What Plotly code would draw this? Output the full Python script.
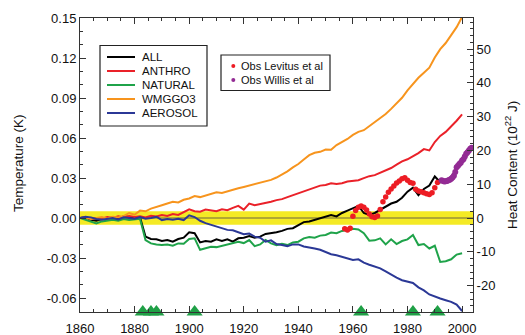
import plotly.graph_objects as go

# ---------------- data (heat content, 10^22 J) ----------------
years = [1860, 1862, 1864, 1866, 1868, 1870, 1872, 1874, 1876, 1878,
         1880, 1882, 1884, 1886, 1888, 1890, 1892, 1894, 1896, 1898,
         1900, 1902, 1904, 1906, 1908, 1910, 1912, 1914, 1916, 1918,
         1920, 1922, 1924, 1926, 1928, 1930, 1932, 1934, 1936, 1938,
         1940, 1942, 1944, 1946, 1948, 1950, 1952, 1954, 1956, 1958,
         1960, 1962, 1964, 1966, 1968, 1970, 1972, 1974, 1976, 1978,
         1980, 1982, 1984, 1986, 1988, 1990, 1992, 1994, 1996, 1998, 2000]

all_forcing = [0.0, 0.3, -0.5, -0.8, -0.3, -0.2, 0.2, -0.3, 0.5, 0.3,
               -0.2, 0.2, -5.5, -6.2, -6.3, -6.8, -6.5, -7.0, -6.2, -5.8,
               -4.2, -4.5, -7.2, -6.8, -7.0, -6.3, -6.8, -6.3, -7.0, -6.0,
               -5.8, -5.3, -5.8, -5.5, -4.7, -4.5, -4.2, -3.8, -3.2, -3.0,
               -2.2, -1.2, -1.0, -0.5, 0.0, 0.3, 0.9, 0.5, 1.5, 2.2,
               3.0, 3.6, 1.5, 0.9, 1.5, 2.4, 3.4, 4.3, 4.8, 6.0,
               7.8, 9.0, 6.8, 8.6, 9.6, 12.3, 10.6, 11.2, 12.0, 14.8, 17.2]

anthro = [0.0, 0.2, -0.3, 0.0, -0.2, 0.3, 0.0, 0.5, 0.2, 0.6,
          0.3, 0.5, 0.2, 0.7, 0.5, 0.9, 0.6, 1.2, 0.9, 1.8,
          2.6, 2.0, 1.9, 2.5, 2.2, 2.0, 2.6, 2.3, 3.0, 3.6,
          2.5, 4.3, 3.8, 4.1, 4.6, 4.8, 5.3, 5.6, 6.2, 6.8,
          7.2, 7.8, 8.6, 9.0, 9.6, 9.8, 10.3, 10.1, 10.3, 10.8,
          11.0, 11.2, 11.8, 12.4, 12.7, 13.4, 14.0, 14.8, 15.8, 16.8,
          17.4, 18.2, 19.2, 20.4, 20.0, 22.5, 24.3, 25.5, 27.0, 28.8, 30.7]

natural = [0.0, -0.5, -1.2, -1.6, -1.0, -0.8, -0.5, -0.8, -0.3, -0.6,
           -0.5, -0.2, -6.5, -7.5, -7.8, -8.0, -7.8, -8.2, -7.5, -7.6,
           -6.2, -6.0, -9.4, -9.0, -8.5, -8.6, -8.2, -8.0, -7.5, -7.0,
           -7.4, -6.5, -8.3, -7.8, -6.5, -7.5, -8.0, -7.6, -8.0, -7.2,
           -7.0, -6.0, -5.6, -5.8, -5.2, -5.0, -4.3, -4.5, -3.8, -3.5,
           -3.2, -3.4, -4.5, -6.7, -6.6, -6.0, -7.8, -6.3, -7.7, -6.8,
           -6.3, -5.0, -8.0, -7.7, -9.0, -8.2, -13.0, -12.8, -12.2, -10.8, -10.4]

wmggo3 = [0.0, 0.2, -0.3, 0.1, 0.3, -0.2, 0.4, 0.2, 0.6, 1.5,
          1.0, 2.2, 2.0, 2.8, 3.4, 3.8, 4.3, 4.8, 4.6, 5.4,
          5.8, 6.5, 6.2, 6.6, 7.2, 7.6, 7.4, 7.9, 8.5, 8.8,
          9.2, 9.6, 10.0, 10.4, 10.8, 11.3, 12.0, 12.8, 13.8, 15.0,
          16.0, 17.3, 18.6, 19.3, 19.6, 20.3, 20.2, 21.6, 22.5, 23.4,
          24.6, 25.5, 26.0, 27.2, 28.6, 29.6, 30.8, 32.3, 33.8, 35.6,
          37.8, 39.8, 41.5, 43.0, 44.5, 47.5, 50.0, 51.8, 54.0, 56.5, 59.5]

aerosol = [0.0, 0.4, 0.2, -0.3, -0.5, -0.2, 0.0, -0.4, 0.2, 0.0,
           -0.2, 0.3, -0.2, 0.0, 0.4, -0.6, -0.3, -0.5, -0.2, -0.6,
           0.8, 0.3, -0.8, -1.5, -2.0, -2.4, -2.8, -3.5, -3.6, -4.2,
           -4.8, -4.6, -5.5, -5.8, -7.0, -6.6, -7.7, -8.0, -8.3, -7.8,
           -7.8, -8.4, -8.6, -9.0, -9.4, -10.0, -10.7, -11.0, -11.4, -12.0,
           -12.4, -12.2, -13.2, -13.8, -14.3, -14.9, -15.8, -16.8, -17.6, -18.4,
           -18.8, -19.2, -20.5, -21.4, -22.6, -23.3, -23.8, -24.3, -24.8, -25.6, -27.5]

levitus_years = [1957, 1958, 1959, 1960, 1961, 1962, 1963, 1964, 1965, 1966,
                 1967, 1968, 1969, 1970, 1971, 1972, 1973, 1974, 1975, 1976,
                 1977, 1978, 1979, 1980, 1981, 1982, 1983, 1984, 1985, 1986,
                 1987, 1988, 1989, 1990, 1991]
levitus = [-3.2, -3.5, -3.0, 0.5, 2.2, 3.2, 3.6, 3.2, 2.4, 1.2,
           0.4, 0.2, 0.6, 2.5, 4.8, 6.2, 7.6, 8.6, 9.5, 10.4,
           11.0, 11.6, 11.9, 11.2, 10.5, 10.3, 8.5, 8.0, 7.8, 7.5,
           7.2, 7.0, 7.5, 9.0, 10.5]

willis_years = [1992.5, 1993.0, 1993.5, 1994.0, 1994.5, 1995.0, 1995.5, 1996.0,
                1996.5, 1997.0, 1997.5, 1998.0, 1998.5, 1999.0, 1999.5, 2000.0,
                2000.5, 2001.0, 2001.5, 2002.0, 2002.5, 2003.0, 2003.5]
willis = [11.2, 11.0, 10.8, 10.9, 11.0, 11.2, 11.3, 11.6,
          12.0, 12.5, 13.6, 15.0, 15.5, 16.0, 16.4, 17.0,
          17.4, 18.2, 19.0, 19.5, 20.0, 20.5, 20.8]

volcano_years = [1883, 1886, 1888, 1902, 1963, 1982, 1991]

series_names = ["ALL", "ANTHRO", "NATURAL", "WMGGO3", "AEROSOL"]
obs_names = ["Obs Levitus et al", "Obs Willis et al"]

x_ticks = [1860, 1880, 1900, 1920, 1940, 1960, 1980, 2000]
left_ticks = [-0.06, -0.03, 0.00, 0.03, 0.06, 0.09, 0.12, 0.15]
left_labels = ["-0.06", "-0.03", "0.00", "0.03", "0.06", "0.09", "0.12", "0.15"]
right_ticks = [-20, -10, 0, 10, 20, 30, 40, 50]
right_labels = ["-20", "-10", "0", "10", "20", "30", "40", "50"]

# ---------------- styling ----------------
FONT = "Liberation Sans, Arial, Helvetica, sans-serif"
colors = ["#000000", "#ea2129", "#1fa34a", "#f7941d", "#2b3896"]
series = [all_forcing, anthro, natural, wmggo3, aerosol]
obs_colors = ["#ed1c24", "#932b94"]

W, H = 525, 335
L, R, T, B = 80, 52, 18, 23
PW, PH = W - L - R, H - T - B


def px(xp):
    return (xp - L) / PW


def py(yp):
    return 1 - (yp - T) / PH


fig = go.Figure()

# invisible anchor point on the left (K) axis so it is drawn
fig.add_trace(go.Scatter(x=[1860], y=[0], mode="markers", marker=dict(opacity=0),
                         showlegend=False, hoverinfo="skip", yaxis="y"))

for i in range(len(series)):
    fig.add_trace(go.Scatter(x=years, y=series[i], mode="lines", name=series_names[i],
                             line=dict(color=colors[i], width=2), yaxis="y2",
                             showlegend=False))

fig.add_trace(go.Scatter(x=levitus_years, y=levitus, mode="markers", name=obs_names[0],
                         marker=dict(color=obs_colors[0], size=5.5), yaxis="y2",
                         showlegend=False))
fig.add_trace(go.Scatter(x=willis_years, y=willis, mode="markers", name=obs_names[1],
                         marker=dict(color=obs_colors[1], size=6), yaxis="y2",
                         showlegend=False))

# volcano triangles, sitting on the bottom axis
y2_range = [-27.8, 59.2]
fig.add_trace(go.Scatter(x=volcano_years, y=[y2_range[0]] * len(volcano_years),
                         mode="markers", marker=dict(symbol="triangle-up", size=14, color="#1fa046"),
                         yaxis="y2", cliponaxis=False, showlegend=False, hoverinfo="skip"))

shapes = []
annotations = []

# yellow band and zero line
shapes.append(dict(type="rect", xref="paper", yref="y2", x0=0, x1=1, y0=-2, y1=2,
                   fillcolor="#f4ea25", line=dict(width=0), layer="below"))
shapes.append(dict(type="line", xref="paper", yref="y2", x0=0, x1=1, y0=0, y1=0,
                   line=dict(color="#9a9038", width=1.5), layer="below"))

# legend 1
shapes.append(dict(type="rect", xref="paper", yref="paper", x0=px(100), x1=px(207),
                   y0=py(126), y1=py(45.5), line=dict(color="#222", width=1.2),
                   fillcolor="white"))
for i, name in enumerate(series_names):
    yy = 57 + 14 * i
    shapes.append(dict(type="line", xref="paper", yref="paper", x0=px(107), x1=px(135),
                       y0=py(yy), y1=py(yy), line=dict(color=colors[i], width=2)))
    annotations.append(dict(xref="paper", yref="paper", x=px(140), y=py(yy), text=name,
                            showarrow=False, xanchor="left", yanchor="middle",
                            font=dict(family=FONT, size=11.5, color="#111")))

# legend 2
shapes.append(dict(type="rect", xref="paper", yref="paper", x0=px(221), x1=px(330),
                   y0=py(90.5), y1=py(55), line=dict(color="#222", width=1.2),
                   fillcolor="white"))
for i, name in enumerate(obs_names):
    yy = 66 + 14 * i
    shapes.append(dict(type="circle", xref="paper", yref="paper", x0=px(231.3), x1=px(235.3),
                       y0=py(yy + 2), y1=py(yy - 2), fillcolor=obs_colors[i],
                       line=dict(width=0)))
    annotations.append(dict(xref="paper", yref="paper", x=px(238.5), y=py(yy), text=name,
                            showarrow=False, xanchor="left", yanchor="middle",
                            font=dict(family=FONT, size=11, color="#111")))

# axis titles
annotations.append(dict(xref="paper", yref="paper", x=px(18), y=py(163), text="Temperature (K)",
                        showarrow=False, textangle=-90, xanchor="center", yanchor="middle",
                        font=dict(family=FONT, size=13.5, color="#111")))
annotations.append(dict(xref="paper", yref="paper", x=px(511), y=py(165),
                        text="Heat Content (10<sup>22</sup> J)",
                        showarrow=False, textangle=-90, xanchor="center", yanchor="middle",
                        font=dict(family=FONT, size=13.5, color="#111")))

tickfont = dict(family=FONT, size=13, color="#111")

fig.update_layout(
    width=W, height=H,
    margin=dict(l=L, r=R, t=T, b=B, pad=0, autoexpand=False),
    paper_bgcolor="white", plot_bgcolor="white",
    showlegend=False,
    shapes=shapes, annotations=annotations,
    xaxis=dict(range=[1860, 2004], tickmode="array", tickvals=x_ticks, automargin=False,
               ticktext=[str(v) for v in x_ticks], ticks="inside", ticklen=6,
               tickcolor="#333", showline=True, linecolor="#333", linewidth=1,
               mirror="ticks", showgrid=False, zeroline=False, tickfont=tickfont,
               ticklabelstandoff=4,
               minor=dict(dtick=5, tick0=1860, ticks="inside", ticklen=3, tickcolor="#333",
                          showgrid=False)),
    yaxis=dict(range=[-0.0705, 0.15], tickmode="array", tickvals=left_ticks, automargin=False,
               ticktext=left_labels, ticks="inside", ticklen=6, tickcolor="#333",
               showline=True, linecolor="#333", linewidth=1, showgrid=False,
               zeroline=False, tickfont=tickfont,
               minor=dict(dtick=0.01, tick0=0, ticks="inside", ticklen=3, tickcolor="#333",
                          showgrid=False)),
    yaxis2=dict(range=y2_range, overlaying="y", side="right", tickmode="array", automargin=False,
                tickvals=right_ticks, ticktext=right_labels, ticks="inside", ticklen=6,
                tickcolor="#333", showline=True, linecolor="#333", linewidth=1,
                showgrid=False, zeroline=False, tickfont=tickfont,
                minor=dict(dtick=2, tick0=0, ticks="inside", ticklen=3, tickcolor="#333",
                           showgrid=False)),
)

fig.write_html("out.html", config={"displayModeBar": False},
               post_script="document.body.style.margin='0';document.body.style.overflow='hidden';")
